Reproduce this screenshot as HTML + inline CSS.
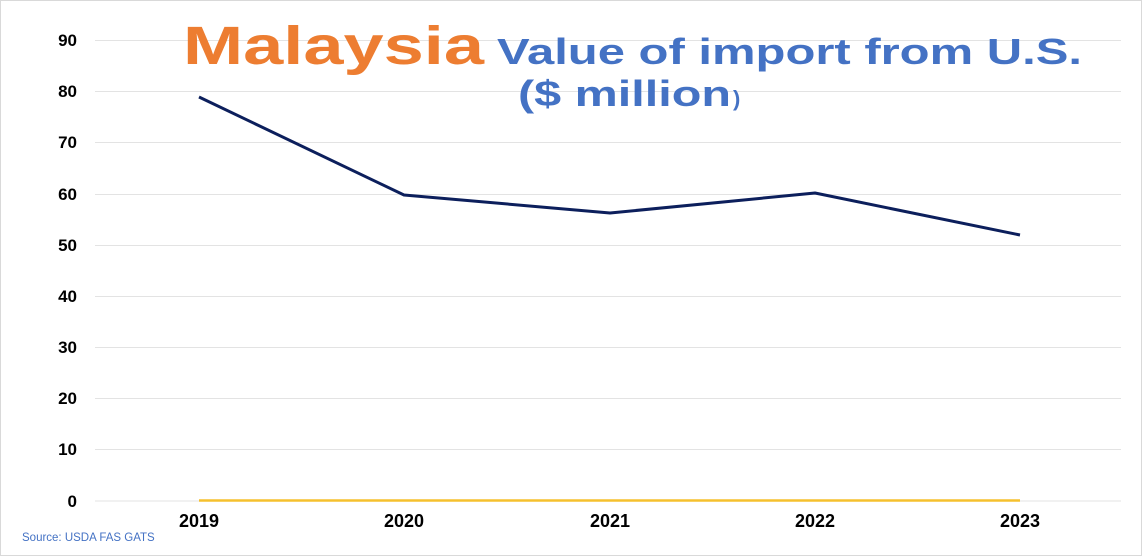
<!DOCTYPE html>
<html><head><meta charset="utf-8"><style>html,body{margin:0;padding:0;background:#fff}svg{display:block}</style></head><body>
<svg width="1142" height="557" xmlns="http://www.w3.org/2000/svg" font-family="Liberation Sans, Arial, sans-serif">
<rect x="0.5" y="0.5" width="1141" height="555" fill="#fff" stroke="#d9d9d9"/>
<g stroke="#e3e3e3" stroke-width="1">
<line x1="95" x2="1121" y1="40.5" y2="40.5"/><line x1="95" x2="1121" y1="91.5" y2="91.5"/>
<line x1="95" x2="1121" y1="142.5" y2="142.5"/><line x1="95" x2="1121" y1="194.5" y2="194.5"/>
<line x1="95" x2="1121" y1="245.5" y2="245.5"/><line x1="95" x2="1121" y1="296.5" y2="296.5"/>
<line x1="95" x2="1121" y1="347.5" y2="347.5"/><line x1="95" x2="1121" y1="398.5" y2="398.5"/>
<line x1="95" x2="1121" y1="449.5" y2="449.5"/><line x1="95" x2="1121" y1="501" y2="501"/>
</g>
<g font-size="17" font-weight="bold" fill="#000" text-anchor="end">
<text x="77" y="46">90</text><text x="77" y="97">80</text><text x="77" y="148">70</text>
<text x="77" y="200">60</text><text x="77" y="251">50</text><text x="77" y="302">40</text>
<text x="77" y="353">30</text><text x="77" y="404">20</text><text x="77" y="455">10</text>
<text x="77" y="507">0</text>
</g>
<g font-size="18" font-weight="bold" fill="#000" text-anchor="middle">
<text x="199" y="527">2019</text><text x="404" y="527">2020</text><text x="610" y="527">2021</text>
<text x="815" y="527">2022</text><text x="1020" y="527">2023</text>
</g>
<line x1="199" x2="1020" y1="500.5" y2="500.5" stroke="#f5c02e" stroke-width="2.5"/>
<polyline points="199,97 404,195 610,213 815,193 1020,235" fill="none" stroke="#0c1f5c" stroke-width="3" stroke-linejoin="round"/>
<text x="22" y="541" font-size="11.5" fill="#4472c4">Source: USDA FAS GATS</text>
<text x="183" y="64" font-size="54" font-weight="bold" fill="#ed7d31" textLength="301" lengthAdjust="spacingAndGlyphs">Malaysia</text>
<text x="497" y="64" font-size="36" font-weight="bold" fill="#4472c4" textLength="585" lengthAdjust="spacingAndGlyphs">Value of import from U.S.</text>
<text x="518" y="106" font-size="36" font-weight="bold" fill="#4472c4" textLength="213" lengthAdjust="spacingAndGlyphs">($ million</text>
<text x="733" y="106" font-size="22" font-weight="bold" fill="#4472c4">)</text>
</svg>
</body></html>
